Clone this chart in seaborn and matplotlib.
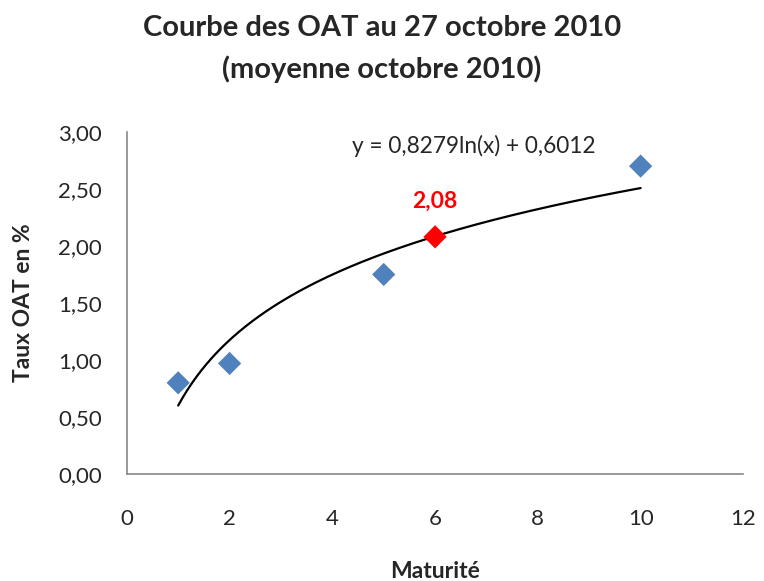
import numpy as np
import pandas as pd
import seaborn as sns
import matplotlib.pyplot as plt

# data
maturite = [1, 2, 5, 10]
taux = [0.80, 0.97, 1.75, 2.70]
maturite_moy = [6]
taux_moy = [2.08]
# trend line coefficients shown on the chart: y = a ln(x) + b
coef_a = 0.8279
coef_b = 0.6012

sns.set_style("white")
plt.rcParams['font.family'] = ['Lato', 'DejaVu Sans']

df = pd.DataFrame({'Maturité': maturite, 'Taux': taux})
x_fit = np.linspace(1, 10, 200)
df_fit = pd.DataFrame({'x': x_fit, 'y': coef_a * np.log(x_fit) + coef_b})

fig = plt.figure(figsize=(7.64, 5.81), dpi=100)
ax = fig.add_axes([0.166, 0.184, 0.807, 0.589])

sns.lineplot(x='x', y='y', data=df_fit, color='black', linewidth=1.6, ax=ax)
sns.scatterplot(x='Maturité', y='Taux', data=df, marker='D', s=140,
                color='#4F81BD', edgecolor='none', ax=ax, zorder=3)
sns.scatterplot(x=maturite_moy, y=taux_moy, marker='D', s=140,
                color='#FF0000', edgecolor='none', ax=ax, zorder=4)

ax.text(maturite_moy[0], taux_moy[0] + 0.31, f'{taux_moy[0]:.2f}'.replace('.', ','),
        color='#FF0000', fontsize=16.5, fontweight='bold', ha='center', va='center')
ax.text(6.75, 2.88, 'y = 0,8279ln(x) + 0,6012', fontsize=16.3,
        ha='center', va='center')

ax.set_xlim(0, 12)
ax.set_ylim(0, 3)
ax.set_xticks(range(0, 13, 2))
ax.set_yticks(np.arange(0, 3.01, 0.5))
ax.set_yticklabels([f'{v:.2f}'.replace('.', ',') for v in np.arange(0, 3.01, 0.5)])
ax.tick_params(axis='both', labelsize=16, length=0)
ax.tick_params(axis='x', pad=25)
ax.tick_params(axis='y', pad=18)

for side in ['top', 'right']:
    ax.spines[side].set_visible(False)
for side in ['left', 'bottom']:
    ax.spines[side].set_color('#888888')
    ax.spines[side].set_linewidth(1.2)

ax.set_xlabel('Maturité', fontsize=16.5, fontweight='bold', labelpad=23)
ax.set_ylabel('Taux OAT en %', fontsize=16.5, fontweight='bold', labelpad=17)
fig.suptitle('Courbe des OAT au 27 octobre 2010\n(moyenne octobre 2010)',
             fontsize=21, fontweight='bold', y=0.974, linespacing=1.62)

plt.savefig('out.png', dpi=100)
